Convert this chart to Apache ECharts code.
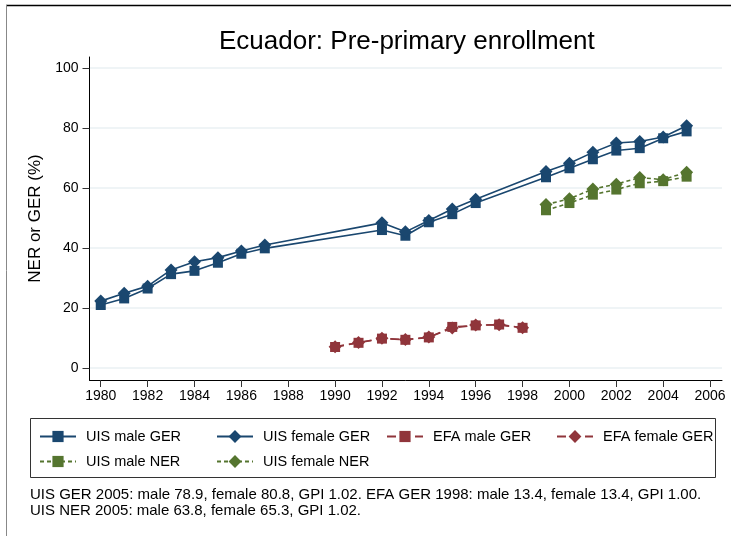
<!DOCTYPE html>
<html>
<head>
<meta charset="utf-8">
<script src="https://cdn.jsdelivr.net/npm/echarts@6/dist/echarts.min.js"></script>
<style>
html,body{margin:0;padding:0;background:#fff;}
#chart{width:731px;height:536px;}
</style>
</head>
<body>
<div id="chart"></div>
<script>
// ---- data ----
var uisGerYears = [1980,1981,1982,1983,1984,1985,1986,1987,1992,1993,1994,1995,1996,1999,2000,2001,2002,2003,2004,2005];
var uisMaleGER   = [21.0,23.2,26.5,31.3,32.4,35.1,38.1,39.9,46.0,44.1,48.6,51.3,55.0,63.6,66.6,69.6,72.5,73.3,76.6,78.9];
var uisFemaleGER = [22.3,24.9,27.3,32.7,35.4,36.8,39.0,41.0,48.4,45.4,49.2,53.0,56.3,65.5,68.3,71.9,75.0,75.5,77.0,80.8];
var efaYears = [1990,1991,1992,1993,1994,1995,1996,1997,1998];
var efaMaleGER   = [7.0,8.4,9.8,9.4,10.2,13.7,14.2,14.5,13.4];
var efaFemaleGER = [7.1,8.5,9.9,9.5,10.3,13.3,14.3,14.4,13.4];
var nerYears = [1999,2000,2001,2002,2003,2004,2005];
var uisMaleNER   = [52.6,55.0,57.8,59.5,61.6,62.3,63.8];
var uisFemaleNER = [54.5,56.4,59.7,61.3,63.5,62.8,65.3];
var xTicks = [1980,1982,1984,1986,1988,1990,1992,1994,1996,1998,2000,2002,2004,2006];
var yTicks = [0,20,40,60,80,100];
var seriesNames = ['UIS male GER','UIS female GER','EFA male GER','EFA female GER','UIS male NER','UIS female NER'];
var titleText = 'Ecuador: Pre-primary enrollment';
var yTitle = 'NER or GER (%)';
var noteLines = [
  'UIS GER 2005: male 78.9, female 80.8, GPI 1.02. EFA GER 1998: male 13.4, female 13.4, GPI 1.00.',
  'UIS NER 2005: male 63.8, female 65.3, GPI 1.02.'
];

function pairs(xs, ys){ return xs.map(function(x,i){ return [x, ys[i]]; }); }

var NAVY = '#1a476f', MAROON = '#90353b', GREEN = '#55752f';
var FONT = '"Liberation Sans", Arial, sans-serif';

function mkSeries(name, xs, ys, color, symbol, size, dash){
  return {
    name: name, type: 'line', data: pairs(xs, ys),
    symbol: symbol, symbolSize: size, showSymbol: true,
    itemStyle: {color: color},
    lineStyle: {color: color, width: 1.6, type: dash},
    emphasis: {disabled: true}, animation: false, z: 3
  };
}

var series = [
  mkSeries(seriesNames[0], uisGerYears, uisMaleGER, NAVY, 'rect', 10, 'solid'),
  mkSeries(seriesNames[1], uisGerYears, uisFemaleGER, NAVY, 'diamond', 13, 'solid'),
  mkSeries(seriesNames[2], efaYears, efaMaleGER, MAROON, 'rect', 10, [9,5]),
  mkSeries(seriesNames[3], efaYears, efaFemaleGER, MAROON, 'diamond', 13, [9,5]),
  mkSeries(seriesNames[4], nerYears, uisMaleNER, GREEN, 'rect', 10, [4,3]),
  mkSeries(seriesNames[5], nerYears, uisFemaleNER, GREEN, 'diamond', 13, [4,3])
];

var legendPos = [
  {left: 39, top: 429}, {left: 216, top: 429}, {left: 386, top: 429}, {left: 556, top: 429},
  {left: 39, top: 454}, {left: 216, top: 454}
];
var legends = seriesNames.map(function(n, i){
  var isDiamond = (i % 2 === 1);
  return {
    data: [n], left: legendPos[i].left, top: legendPos[i].top,
    itemWidth: 36, itemHeight: isDiamond ? 16 : 14, itemGap: 0, padding: 0,
    textStyle: {fontFamily: FONT, fontSize: 14.5, color: '#000', padding: [0,0,0,5]},
    selectedMode: false
  };
});

var chart = echarts.init(document.getElementById('chart'), null, {renderer: 'canvas'});
chart.setOption({
  backgroundColor: '#fff',
  animation: false,
  title: {
    text: titleText, left: 219, top: 29, padding: 0,
    textStyle: {fontFamily: FONT, fontSize: 26, fontWeight: 'normal', color: '#000'}
  },
  legend: legends,
  grid: {left: 89.5, right: 9, top: 57, bottom: 156, containLabel: false},
  xAxis: {
    type: 'value', min: 1979.52, max: 2006.51,
    axisLine: {show: true, onZero: false, lineStyle: {color: '#000', width: 1}},
    axisTick: {show: true, length: 7, customValues: xTicks, lineStyle: {color: '#333'}},
    axisLabel: {customValues: xTicks, fontFamily: FONT, fontSize: 14, color: '#000', margin: 9,
      formatter: function(v){ return String(v); }},
    splitLine: {show: false}
  },
  yAxis: {
    type: 'value', min: -4, max: 103.7,
    axisLine: {show: true, onZero: false, lineStyle: {color: '#000', width: 1}},
    axisTick: {show: true, length: 7, customValues: yTicks, lineStyle: {color: '#333'}},
    axisLabel: {customValues: yTicks, fontFamily: FONT, fontSize: 14, color: '#000', margin: 11,
      formatter: function(v){ return String(v); }},
    splitLine: {show: true, lineStyle: {color: '#eaf0f3', width: 1.6}},
    name: yTitle, nameLocation: 'middle', nameGap: 42,
    nameTextStyle: {fontFamily: FONT, fontSize: 17, color: '#000'}
  },
  graphic: [
    {type: 'line', shape: {x1: 6, y1: 5.5, x2: 731, y2: 5.5}, style: {stroke: '#000', lineWidth: 1.5}, silent: true},
    {type: 'line', shape: {x1: 6.5, y1: 5, x2: 6.5, y2: 536}, style: {stroke: '#888', lineWidth: 1}, silent: true},
    {type: 'rect', shape: {x: 30.5, y: 418.5, width: 685, height: 59}, style: {fill: 'none', stroke: '#333', lineWidth: 1}, silent: true, z: -1},
    {type: 'text', left: 30, top: 487, style: {text: noteLines[0], font: '15px ' + FONT, fill: '#000'}, silent: true},
    {type: 'text', left: 30, top: 503, style: {text: noteLines[1], font: '15px ' + FONT, fill: '#000'}, silent: true}
  ],
  series: series
});
</script>
</body>
</html>
